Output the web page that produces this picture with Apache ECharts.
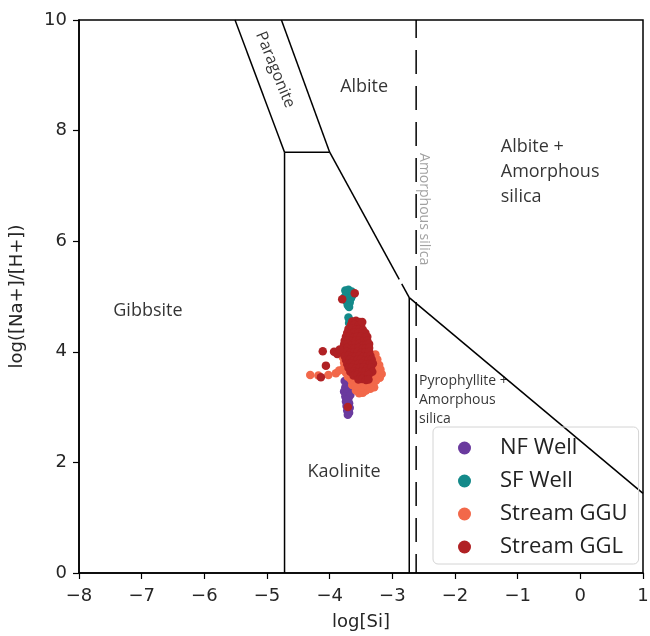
<!DOCTYPE html>
<html><head><meta charset="utf-8">
<script src="https://cdn.jsdelivr.net/npm/echarts@6/dist/echarts.min.js"></script>
<style>html,body{margin:0;padding:0;background:#fff}#c{width:650px;height:636px}</style>
</head><body><div id="c"></div>
<script>
// ---- axis ticks ----
const xTicks = [-8, -7, -6, -5, -4, -3, -2, -1, 0, 1];
const yTicks = [0, 2, 4, 6, 8, 10];

// ---- series: [log[Si], log([Na+]/[H+])] ----
const nfWell = [
  [-3.76,3.47],[-3.71,3.44],[-3.66,3.41],[-3.75,3.36],[-3.70,3.33],[-3.77,3.28],[-3.72,3.26],
  [-3.75,3.19],[-3.70,3.16],[-3.74,3.10],[-3.69,3.07],[-3.73,3.02],[-3.68,2.99],[-3.72,2.94],
  [-3.69,2.90],[-3.71,2.86],[-3.67,3.22],[-3.73,3.13]
];
const sfWell = [
  [-3.75,5.11],[-3.70,5.12],[-3.65,5.09],[-3.73,5.05],[-3.68,5.03],[-3.64,5.02],[-3.76,4.99],[-3.71,4.97],
  [-3.66,4.97],[-3.73,4.91],[-3.68,4.89],[-3.71,4.84],[-3.69,4.81],
  [-3.70,4.62],[-3.68,4.57],[-3.69,4.52],[-3.66,4.50]
];
const streamGGU = [
  [-4.31,3.58],[-4.18,3.57],[-4.02,3.58],[-3.90,3.61],[-3.85,3.66],
  [-3.80,4.02],[-3.79,3.90],[-3.77,3.80],[-3.78,3.70],[-3.74,3.62],[-3.71,3.55],[-3.66,3.50],[-3.62,3.46],
  [-3.27,3.95],[-3.24,3.86],[-3.21,3.76],[-3.19,3.68],[-3.17,3.60],[-3.20,3.53],[-3.26,3.48],
  [-3.31,3.42],[-3.29,3.36],[-3.35,3.33],[-3.42,3.30],[-3.47,3.26],[-3.53,3.25],[-3.58,3.30],
  [-3.50,3.36],[-3.44,3.40],[-3.38,3.45],[-3.33,3.52],[-3.28,3.60],[-3.25,3.68],[-3.30,3.70],
  [-3.64,3.40],[-3.58,3.38]
];
const streamGGL = [
  [-3.64,4.55],[-3.58,4.56],[-3.52,4.54],
  [-3.66,4.48],[-3.60,4.49],[-3.54,4.47],[-3.50,4.48],
  [-3.70,4.41],[-3.64,4.42],[-3.58,4.40],[-3.52,4.41],[-3.47,4.40],
  [-3.72,4.34],[-3.66,4.33],[-3.60,4.35],[-3.54,4.34],[-3.48,4.33],[-3.43,4.34],
  [-3.74,4.27],[-3.68,4.28],[-3.62,4.26],[-3.56,4.27],[-3.50,4.28],[-3.44,4.26],[-3.40,4.27],
  [-3.76,4.20],[-3.70,4.21],[-3.64,4.19],[-3.58,4.20],[-3.52,4.21],[-3.46,4.19],[-3.40,4.20],
  [-3.77,4.13],[-3.71,4.14],[-3.65,4.12],[-3.59,4.13],[-3.53,4.14],[-3.47,4.12],[-3.41,4.13],[-3.37,4.14],
  [-3.78,4.06],[-3.72,4.07],[-3.66,4.05],[-3.60,4.06],[-3.54,4.07],[-3.48,4.05],[-3.42,4.06],[-3.37,4.07],
  [-3.79,3.99],[-3.73,4.00],[-3.67,3.98],[-3.61,3.99],[-3.55,4.00],[-3.49,3.98],[-3.43,3.99],[-3.37,4.00],
  [-3.76,3.92],[-3.70,3.93],[-3.64,3.91],[-3.58,3.92],[-3.52,3.93],[-3.46,3.91],[-3.40,3.92],[-3.35,3.93],
  [-3.74,3.85],[-3.68,3.86],[-3.62,3.84],[-3.56,3.85],[-3.50,3.86],[-3.44,3.84],[-3.38,3.85],[-3.33,3.86],
  [-3.72,3.78],[-3.66,3.79],[-3.60,3.77],[-3.54,3.78],[-3.48,3.79],[-3.42,3.77],[-3.36,3.78],[-3.31,3.79],
  [-3.70,3.71],[-3.64,3.72],[-3.58,3.70],[-3.52,3.71],[-3.46,3.72],[-3.40,3.70],[-3.34,3.71],
  [-3.67,3.64],[-3.61,3.65],[-3.55,3.63],[-3.49,3.64],[-3.43,3.65],[-3.37,3.63],[-3.32,3.64],
  [-3.62,3.57],[-3.56,3.58],[-3.50,3.56],[-3.44,3.57],[-3.38,3.58],
  [-3.54,3.50],[-3.48,3.51],[-3.42,3.49],[-3.38,3.50],
  [-3.80,4.95],[-3.60,5.06],[-3.48,4.54],[-4.11,4.01],[-3.93,4.00],[-4.06,3.75],[-4.14,3.54],
  [-3.88,3.96],[-3.84,4.04],[-3.71,3.00]
];

// ---- phase boundaries (data coordinates) ----
const boundaries = [
  [[-5.51,10],[-4.72,7.61]],
  [[-4.77,10],[-4.00,7.61]],
  [[-4.72,7.61],[-4.00,7.61]],
  [[-4.72,7.61],[-4.72,0]],
  [[-4.00,7.61],[-2.89,5.31]],
  [[-2.85,5.23],[-2.73,4.98]],
  [[-2.73,4.98],[-2.73,0]],
  [[-2.73,4.98],[1,1.44]]
];
const amorphousSilicaLine = [[-2.62,10],[-2.62,0]];

// ---- region labels ----
const regionNames = ['Paragonite','Albite','Albite +\nAmorphous\nsilica','Amorphous silica','Gibbsite','Kaolinite','Pyrophyllite +\nAmorphous\nsilica'];
const regionAnchors = [[-4.87,9.10],[-3.45,8.79],[-1.27,7.25],[-2.495,6.58],[-6.90,4.74],[-3.77,1.83],[-2.575,3.13]];
</script>
<script>
const labelStyles = [
  {fontSize:16, rotate:-68, align:'center', color:'#000'},
  {fontSize:18, rotate:0, align:'center', color:'#000'},
  {fontSize:18, rotate:0, align:'left', lineHeight:25, color:'#000'},
  {fontSize:14, rotate:-90, align:'center', color:'#8a8a8a'},
  {fontSize:18, rotate:0, align:'center', color:'#000'},
  {fontSize:18, rotate:0, align:'center', color:'#000'},
  {fontSize:14, rotate:0, align:'left', lineHeight:19, color:'#000'}
];
const textFont = '"Open Sans", "Noto Sans", sans-serif';
const tickFont = '"DejaVu Sans", sans-serif';

const minus = v => (v < 0 ? '\u2212' + Math.abs(v) : String(v));

const series = [];
boundaries.forEach(seg => series.push({
  type:'line', data:seg, symbol:'none', silent:true, z:1,
  lineStyle:{color:'#000', width:1.5}
}));
series.push({
  type:'line', data:amorphousSilicaLine, symbol:'none', silent:true, z:1,
  lineStyle:{color:'#000', width:1.5, type:[24,12], dashOffset:6}
});
const groups = [
  ['NF Well', nfWell, '#6a3a9e'],
  ['SF Well', sfWell, '#148a8a'],
  ['Stream GGU', streamGGU, '#f2684a'],
  ['Stream GGL', streamGGL, '#b02124']
];
groups.forEach(g => series.push({
  name:g[0], type:'scatter', data:g[1], symbol:'circle', symbolSize:8.5, z:3,
  itemStyle:{color:g[2], opacity:1}
}));
series.push({
  type:'scatter', symbolSize:0, silent:true, z:4,
  data: regionNames.map((t,i) => ({
    value: regionAnchors[i],
    label: Object.assign({show:true, formatter:t, position:[0,0], verticalAlign:'middle', fontFamily:textFont}, labelStyles[i])
  }))
});

const chart = echarts.init(document.getElementById('c'), null, {renderer:'canvas'});
chart.setOption({
  animation:false,
  backgroundColor:'#fff',
  grid:{left:79, top:20, width:564, height:553, show:true, borderColor:'#000', borderWidth:1.5, backgroundColor:'transparent', outerBoundsMode:'none', containLabel:false},
  legend:{
    data:groups.map(g=>g[0]), orient:'vertical', left:433, top:427,
    icon:'circle', itemWidth:13, itemHeight:13, itemGap:11,
    padding:[10,11,6,25], borderColor:'#d4d4d4', borderWidth:1, borderRadius:5,
    backgroundColor:'transparent',
    textStyle:{fontSize:22, lineHeight:22, color:'#222', fontFamily:textFont, padding:[0,0,0,24]},
    selectedMode:false
  },
  xAxis:{
    type:'value', min:-8, max:1, interval:1,
    name:'log[Si]', nameLocation:'middle', nameGap:40,
    nameTextStyle:{fontSize:18, color:'#262626', fontFamily:tickFont},
    axisLine:{show:true, onZero:false, lineStyle:{color:'#000', width:1.5}},
    axisTick:{show:true, length:6, lineStyle:{color:'#000', width:1.2}},
    axisLabel:{fontSize:18, color:'#262626', fontFamily:tickFont, margin:14, formatter:minus,
      customValues:xTicks},
    splitLine:{show:false}
  },
  yAxis:{
    type:'value', min:0, max:10, interval:2,
    name:'log([Na+]/[H+])', nameLocation:'middle', nameGap:53, nameRotate:90,
    nameTextStyle:{fontSize:18, color:'#262626', fontFamily:tickFont},
    axisLine:{show:true, onZero:false, lineStyle:{color:'#000', width:1.5}},
    axisTick:{show:true, length:6, lineStyle:{color:'#000', width:1.2}},
    axisLabel:{fontSize:18, color:'#262626', fontFamily:tickFont, margin:12, formatter:minus,
      customValues:yTicks},
    splitLine:{show:false}
  },
  series:series
});
</script>
</body></html>
